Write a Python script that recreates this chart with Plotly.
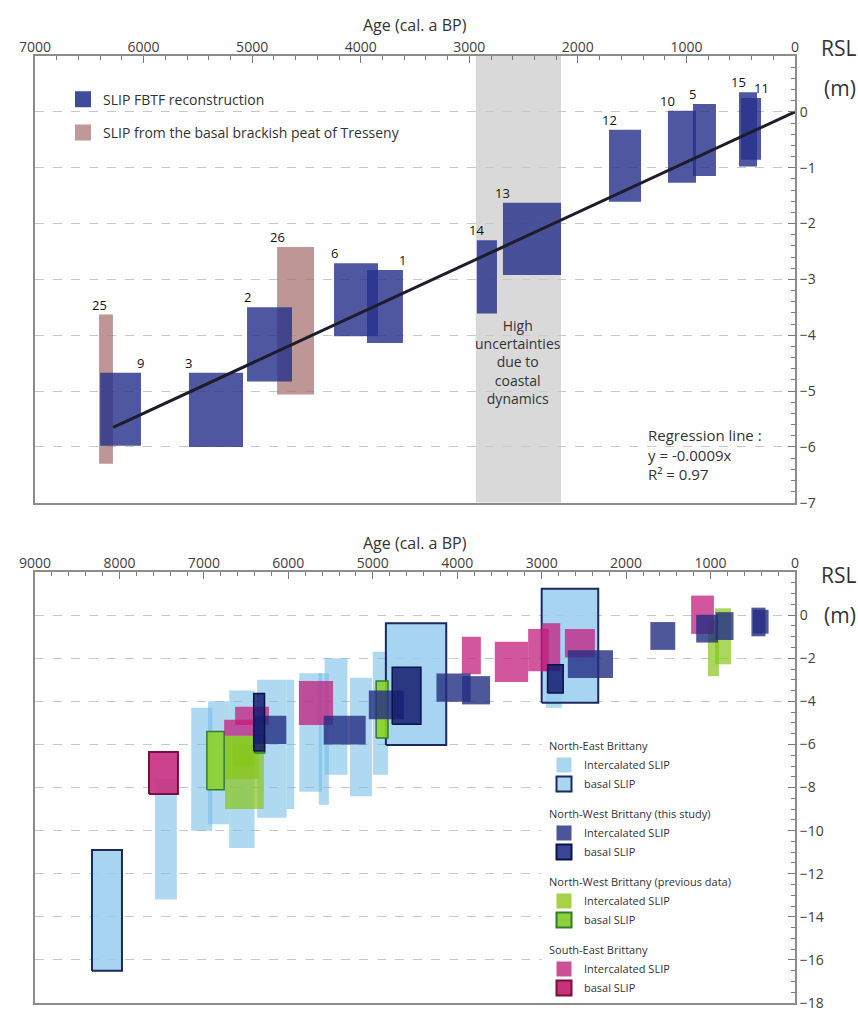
import plotly.graph_objects as go

# ---------------- Top panel data ----------------
top_ids = ['25', '9', '3', '2', '26', '6', '1', '14', '13', '12', '10', '5', '15', '11']
top_age_old = [6410, 6400, 5582, 5047, 4770, 4246, 3942, 2930, 2690, 1713, 1170, 940, 516, 497]
top_age_young = [6282, 6024, 5084, 4633, 4430, 3841, 3611, 2745, 2155, 1418, 912, 728, 350, 313]
top_rsl_high = [-3.63, -4.67, -4.67, -3.50, -2.42, -2.71, -2.83, -2.30, -1.63, -0.32, 0.02, 0.14, 0.35, 0.25]
top_rsl_low = [-6.30, -5.98, -6.00, -4.83, -5.06, -4.02, -4.14, -3.61, -2.92, -1.61, -1.27, -1.15, -0.98, -0.86]
top_source = ['Tresseny', 'FBTF', 'FBTF', 'FBTF', 'Tresseny', 'FBTF', 'FBTF', 'FBTF', 'FBTF',
              'FBTF', 'FBTF', 'FBTF', 'FBTF', 'FBTF']
label_side = ['old', 'young', 'old', 'old', 'old', 'old', 'young', 'old', 'old', 'old', 'old', 'old', 'old', 'young']
# type used in the lower (regional) panel for the same SLIPs
nw_type = ['basal', 'int', 'int', 'int', 'basal', 'int', 'int', 'basal', 'int', 'int', 'int', 'int', 'int', 'int']

reg_age = [6280, 0]
reg_rsl = [-5.65, 0.0]
band_age = [2940, 2155]

# ---------------- Bottom panel data ----------------
# North-East Brittany
ne_int_old = [7580, 7150, 6950, 6700, 6370, 6020, 5870, 5640, 5570, 5270, 5000, 2950]
ne_int_young = [7320, 6900, 6700, 6400, 6020, 5930, 5600, 5520, 5300, 5010, 4820, 2760]
ne_int_high = [-7.6, -4.3, -4.0, -3.5, -3.0, -3.0, -2.7, -2.7, -2.0, -2.9, -1.7, -3.0]
ne_int_low = [-13.2, -10.0, -9.7, -10.8, -9.4, -9.0, -8.2, -8.8, -7.4, -8.4, -7.4, -4.3]
ne_bas_old = [8325, 4845, 3000]
ne_bas_young = [7970, 4130, 2330]
ne_bas_high = [-10.9, -0.37, 1.23]
ne_bas_low = [-16.5, -6.03, -4.06]
# North-West Brittany (previous data)
nwp_int_old = [6750, 6750, 6650, 1030, 947]
nwp_int_young = [6290, 6350, 6400, 900, 758]
nwp_int_high = [-5.6, -5.6, -6.0, -0.23, 0.32]
nwp_int_low = [-9.0, -7.6, -7.0, -2.83, -2.28]
nwp_bas_old = [6965, 4960, 6400]
nwp_bas_young = [6760, 4820, 6280]
nwp_bas_high = [-5.4, -3.05, -5.6]
nwp_bas_low = [-8.1, -5.7, -6.4]
# South-East Brittany
se_int_old = [6630, 6760, 5875, 3945, 3555, 3160, 3000, 2725, 1230]
se_int_young = [6230, 6350, 5470, 3720, 3160, 2915, 2780, 2370, 960]
se_int_high = [-4.25, -4.85, -3.05, -1.0, -1.23, -0.64, -0.37, -0.64, 0.91]
se_int_low = [-5.1, -5.6, -5.1, -2.74, -3.1, -2.6, -2.6, -1.96, -0.87]
se_bas_old = [7650]
se_bas_young = [7307]
se_bas_high = [-6.35]
se_bas_low = [-8.3]

top_xticks = [7000, 6000, 5000, 4000, 3000, 2000, 1000, 0]
bot_xticks = [9000, 8000, 7000, 6000, 5000, 4000, 3000, 2000, 1000, 0]
top_ticks = [0, -1, -2, -3, -4, -5, -6, -7]
bot_ticks = [0, -2, -4, -6, -8, -10, -12, -14, -16, -18]

FONT = "Open Sans"
W, H = 858, 1015
ML, MR, MT, MB = 35, 63, 56, 3

fig = go.Figure()


def rect(x0, x1, y0, y1):
    return [x0, x1, x1, x0, x0], [y0, y0, y1, y1, y0]


def add_box(x0, x1, y0, y1, fill, line_color=None, lw=0, xa='x', ya='y'):
    xs, ys = rect(x0, x1, y0, y1)
    fig.add_trace(go.Scatter(
        x=xs, y=ys, mode='lines', fill='toself', fillcolor=fill,
        line=dict(color=line_color if line_color else fill, width=lw),
        showlegend=False, hoverinfo='skip', xaxis=xa, yaxis=ya))


# colours
C_FBTF = 'rgba(40,50,140,0.82)'
C_TRES = 'rgba(170,115,115,0.75)'
C_NE_INT = 'rgba(110,185,228,0.55)'
C_NE_BAS = 'rgba(150,205,238,0.85)'
C_NE_BAS_L = '#1b2a5e'
C_NW_INT = 'rgba(35,45,130,0.80)'
C_NW_BAS = 'rgba(20,28,110,0.85)'
C_NW_BAS_L = '#0b1248'
C_GR_INT = 'rgba(135,198,25,0.70)'
C_GR_BAS = 'rgba(140,210,40,0.90)'
C_GR_BAS_L = '#2e7d32'
C_PK_INT = 'rgba(195,30,125,0.75)'
C_PK_BAS = 'rgba(200,50,130,0.92)'
C_PK_BAS_L = '#7a0f3e'

# ---------------- Top panel ----------------
for i in range(len(top_ids)):
    if top_source[i] == 'Tresseny':
        add_box(top_age_old[i], top_age_young[i], top_rsl_low[i], top_rsl_high[i], C_TRES)
for i in range(len(top_ids)):
    if top_source[i] == 'FBTF':
        add_box(top_age_old[i], top_age_young[i], top_rsl_low[i], top_rsl_high[i], C_FBTF)

fig.add_trace(go.Scatter(x=reg_age, y=reg_rsl, mode='lines', line=dict(color='#1c1c2a', width=3),
                         showlegend=False, hoverinfo='skip', xaxis='x', yaxis='y'))

# top legend
fig.add_trace(go.Scatter(x=[None], y=[None], mode='markers', name='SLIP FBTF reconstruction',
                         marker=dict(symbol='square', size=19, color='rgb(65,75,155)'),
                         legend='legend', legendgroup='a', xaxis='x', yaxis='y'))
fig.add_trace(go.Scatter(x=[None], y=[None], mode='markers',
                         name='SLIP from the basal brackish peat of Tresseny',
                         marker=dict(symbol='square', size=19, color='rgb(192,152,152)'),
                         legend='legend', legendgroup='b', xaxis='x', yaxis='y'))

# ---------------- Bottom panel ----------------
# white area hiding grid behind the legend
xs, ys = rect(3000, 0, -18, -5)
fig.add_trace(go.Scatter(x=xs, y=ys, mode='lines', fill='toself', fillcolor='white',
                         line=dict(width=0, color='white'), showlegend=False, hoverinfo='skip',
                         xaxis='x2', yaxis='y2'))

for i in range(len(ne_int_old)):
    add_box(ne_int_old[i], ne_int_young[i], ne_int_low[i], ne_int_high[i], C_NE_INT, xa='x2', ya='y2')
for i in range(len(ne_bas_old)):
    add_box(ne_bas_old[i], ne_bas_young[i], ne_bas_low[i], ne_bas_high[i], C_NE_BAS,
            C_NE_BAS_L, 2, 'x2', 'y2')
for i in range(len(nwp_int_old)):
    add_box(nwp_int_old[i], nwp_int_young[i], nwp_int_low[i], nwp_int_high[i], C_GR_INT, xa='x2', ya='y2')
for i in range(len(nwp_bas_old)):
    add_box(nwp_bas_old[i], nwp_bas_young[i], nwp_bas_low[i], nwp_bas_high[i], C_GR_BAS,
            C_GR_BAS_L, 1.5, 'x2', 'y2')
for i in range(len(se_int_old)):
    add_box(se_int_old[i], se_int_young[i], se_int_low[i], se_int_high[i], C_PK_INT, xa='x2', ya='y2')
for i in range(len(se_bas_old)):
    add_box(se_bas_old[i], se_bas_young[i], se_bas_low[i], se_bas_high[i], C_PK_BAS,
            C_PK_BAS_L, 2, 'x2', 'y2')
for i in range(len(top_ids)):
    if nw_type[i] == 'int':
        add_box(top_age_old[i], top_age_young[i], top_rsl_low[i], top_rsl_high[i], C_NW_INT,
                xa='x2', ya='y2')
for i in range(len(top_ids)):
    if nw_type[i] == 'basal':
        add_box(top_age_old[i], top_age_young[i], top_rsl_low[i], top_rsl_high[i], C_NW_BAS,
                C_NW_BAS_L, 1.5, 'x2', 'y2')

# bottom legend entries
legend_items = [
    ('NE', 'North-East Brittany', 'Intercalated SLIP', 'rgb(170,215,240)', None, 0),
    ('NE', 'North-East Brittany', 'basal SLIP', 'rgb(170,215,240)', C_NE_BAS_L, 2),
    ('NW', 'North-West Brittany (this study)', 'Intercalated SLIP', 'rgb(75,85,155)', None, 0),
    ('NW', 'North-West Brittany (this study)', 'basal SLIP', 'rgb(60,70,150)', C_NW_BAS_L, 2),
    ('NWP', 'North-West Brittany (previous data)', 'Intercalated SLIP', 'rgb(165,210,70)', None, 0),
    ('NWP', 'North-West Brittany (previous data)', 'basal SLIP', 'rgb(140,210,60)', C_GR_BAS_L, 2),
    ('SE', 'South-East Brittany', 'Intercalated SLIP', 'rgb(205,80,150)', None, 0),
    ('SE', 'South-East Brittany', 'basal SLIP', 'rgb(200,50,120)', C_PK_BAS_L, 2),
]
for grp, gtitle, nm, col, lc, lw in legend_items:
    fig.add_trace(go.Scatter(
        x=[None], y=[None], mode='markers', name=nm,
        marker=dict(symbol='square', size=15, color=col,
                    line=dict(color=lc if lc else col, width=lw)),
        legend='legend2', legendgroup=grp,
        legendgrouptitle=dict(text=gtitle, font=dict(size=11, color='#333', family=FONT)),
        xaxis='x2', yaxis='y2'))

# ---------------- annotations ----------------
ann = []
for i in range(len(top_ids)):
    xpos = top_age_old[i] if label_side[i] == 'old' else top_age_young[i]
    ann.append(dict(x=xpos, y=top_rsl_high[i], xref='x', yref='y', text=top_ids[i],
                    showarrow=False, yanchor='bottom', xanchor='center', yshift=-1,
                    font=dict(size=13, color='#111', family=FONT)))

ann.append(dict(x=sum(band_age) / 2, y=-4.48, xref='x', yref='y',
                text='High<br>uncertainties<br>due to<br>coastal<br>dynamics', showarrow=False,
                xanchor='center', yanchor='middle',
                font=dict(size=14, color='#333', family=FONT), align='center'))
ann.append(dict(x=1372, y=-5.57, xref='x', yref='y', xanchor='left', yanchor='top',
                text='Regression line :<br>y = -0.0009x<br>R² = 0.97', showarrow=False, align='left',
                font=dict(size=15, color='#333', family=FONT)))

PW = W - ML - MR
PH = H - MT - MB


def px(xp):
    return (xp - ML) / PW


def py(yp):
    return 1 - (yp - MT) / PH


def paper_text(x, y, text, size):
    return dict(x=px(x), y=py(y), xref='paper', yref='paper', text=text, showarrow=False,
                xanchor='center', yanchor='middle', font=dict(size=size, color='#333', family=FONT))


ann.append(paper_text(415, 25, 'Age (cal. a BP)', 16))
ann.append(paper_text(415, 548, 'Age (cal. a BP)', 16))
ann.append(paper_text(838, 48, 'RSL', 21))
ann.append(paper_text(840, 88, '(m)', 21))
ann.append(paper_text(838, 580, 'RSL', 21))
ann.append(paper_text(840, 620, '(m)', 21))

axis_common = dict(showline=True, mirror=True, linecolor='#8c8c8c', linewidth=2, zeroline=False,
                   tickfont=dict(size=14, color='#404040', family=FONT), tickcolor='#777')

fig.update_layout(
    width=W, height=H, margin=dict(l=ML, r=MR, t=MT, b=MB),
    paper_bgcolor='white', plot_bgcolor='white',
    font=dict(family=FONT, color='#333'),
    shapes=[dict(type='rect', xref='x', yref='y', x0=band_age[0], x1=band_age[1], y0=-7, y1=1,
                 fillcolor='#d9d9d9', line=dict(width=0), layer='below')],
    annotations=ann,
    xaxis=dict(domain=[0, 1], anchor='y', side='top', range=[7000, 0], tickvals=top_xticks,
               ticks='inside', ticklen=7, showgrid=False, ticklabelstandoff=-4,
               minor=dict(ticks='inside', ticklen=4, dtick=200, tick0=0, tickcolor='#777', showgrid=False),
               **axis_common),
    yaxis=dict(domain=[1 - (507 - MT) / PH, 1], anchor='x', side='right', range=[-7, 1], tickvals=top_ticks,
               ticks='inside', ticklen=7, showgrid=True, gridcolor='#c8c8c8', griddash='dash', gridwidth=1,
               minor=dict(ticks='inside', ticklen=4, dtick=0.2, tick0=0, tickcolor='#777', showgrid=False),
               **axis_common),
    xaxis2=dict(domain=[0, 1], anchor='y2', side='top', range=[9000, 0], tickvals=bot_xticks,
                ticks='inside', ticklen=7, showgrid=False, ticklabelstandoff=-4,
                minor=dict(ticks='inside', ticklen=4, dtick=200, tick0=0, tickcolor='#777', showgrid=False),
                **axis_common),
    yaxis2=dict(domain=[0, 1 - (577 - MT) / PH], anchor='x2', side='right', range=[-18, 2], tickvals=bot_ticks,
                ticks='inside', ticklen=7, showgrid=True, gridcolor='#c8c8c8', griddash='dash', gridwidth=1,
                minor=dict(ticks='inside', ticklen=4, dtick=0.5, tick0=0, tickcolor='#777', showgrid=False),
                **axis_common),
    legend=dict(x=px(63), y=py(84), xanchor='left', yanchor='top', bgcolor='rgba(0,0,0,0)',
                font=dict(size=14, color='#333', family=FONT), tracegroupgap=12),
    legend2=dict(x=px(544), y=py(738), xanchor='left', yanchor='top', bgcolor='rgba(0,0,0,0)',
                 font=dict(size=11, color='#333', family=FONT), tracegroupgap=11,
                 grouptitlefont=dict(size=11, color='#333', family=FONT)),
)

fig.write_html("out.html", config={'displayModeBar': False},
               post_script="document.body.style.margin='0';document.body.style.padding='0';")
